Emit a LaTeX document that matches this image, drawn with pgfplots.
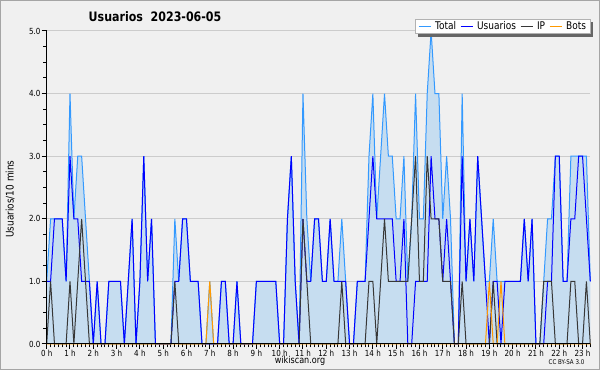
\documentclass[border=0pt]{standalone}
\usepackage{pgfplots}
\pgfplotsset{compat=1.18}
\usepackage{pgfplotstable}
\usepackage{fontspec}
\setmainfont{DejaVu Sans}[FakeStretch=0.85]
\newlength\px
\setlength\px{0.75pt}
\definecolor{bgc}{RGB}{240,240,240}
\definecolor{fillc}{RGB}{198,221,240}
\definecolor{totc}{RGB}{51,153,255}
\definecolor{usrc}{RGB}{0,0,255}
\definecolor{ipc}{RGB}{55,55,55}
\definecolor{botc}{RGB}{255,153,0}
\definecolor{gridc}{RGB}{204,204,204}
\definecolor{framec}{RGB}{165,165,165}

\pgfplotstableread{
i t u p b
0 1 1 0 0
1 2 1 1 0
2 2 2 0 0
3 2 2 0 0
4 2 2 0 0
5 1 1 0 0
6 4 3 1 0
7 2 2 0 0
8 3 2 1 0
9 3 1 2 0
10 2 1 1 0
11 1 1 0 0
12 0 0 0 0
13 1 1 0 0
14 0 0 0 0
15 0 0 0 0
16 1 1 0 0
17 1 1 0 0
18 1 1 0 0
19 1 1 0 0
20 0 0 0 0
21 1 1 0 0
22 2 2 0 0
23 0 0 0 0
24 1 1 0 0
25 3 3 0 0
26 1 1 0 0
27 2 2 0 0
28 0 0 0 0
29 0 0 0 0
30 0 0 0 0
31 0 0 0 0
32 0 0 0 0
33 2 1 1 0
34 1 1 0 0
35 2 2 0 0
36 2 2 0 0
37 1 1 0 0
38 1 1 0 0
39 1 1 0 0
40 0 0 0 0
41 0 0 0 0
42 1 0 0 1
43 0 0 0 0
44 0 0 0 0
45 1 1 0 0
46 1 1 0 0
47 0 0 0 0
48 0 0 0 0
49 1 1 0 0
50 0 0 0 0
51 0 0 0 0
52 0 0 0 0
53 0 0 0 0
54 1 1 0 0
55 1 1 0 0
56 1 1 0 0
57 1 1 0 0
58 1 1 0 0
59 1 1 0 0
60 0 0 0 0
61 0 0 0 0
62 2 2 0 0
63 3 3 0 0
64 1 1 0 0
65 0 0 0 0
66 4 2 2 0
67 2 1 1 0
68 1 1 0 0
69 2 2 0 0
70 2 2 0 0
71 1 1 0 0
72 1 1 0 0
73 2 2 0 0
74 1 1 0 0
75 1 1 0 0
76 2 1 1 0
77 1 1 0 0
78 0 0 0 0
79 0 0 0 0
80 1 1 0 0
81 1 1 0 0
82 1 1 0 0
83 3 2 1 0
84 4 3 1 0
85 2 2 0 0
86 3 2 1 0
87 4 2 2 0
88 3 2 1 0
89 3 2 1 0
90 2 1 1 0
91 2 1 1 0
92 3 2 1 0
93 1 0 1 0
94 2 0 2 0
95 4 1 3 0
96 2 1 1 0
97 2 1 1 0
98 4 1 3 0
99 5 3 2 0
100 4 2 2 0
101 4 2 2 0
102 2 1 1 0
103 3 2 1 0
104 2 1 1 0
105 0 0 0 0
106 0 0 0 0
107 4 3 1 0
108 1 1 0 0
109 2 2 0 0
110 1 1 0 0
111 3 3 0 0
112 2 2 0 0
113 1 1 0 0
114 1 0 0 1
115 2 1 1 0
116 1 1 0 0
117 1 0 0 1
118 1 1 0 0
119 1 1 0 0
120 1 1 0 0
121 1 1 0 0
122 1 1 0 0
123 2 2 0 0
124 1 1 0 0
125 2 2 0 0
126 0 0 0 0
127 0 0 0 0
128 1 0 1 0
129 2 1 1 0
130 2 1 1 0
131 3 3 0 0
132 3 3 0 0
133 1 1 0 0
134 1 1 0 0
135 3 2 1 0
136 3 2 1 0
137 3 3 0 0
138 3 3 0 0
139 3 2 1 0
140 1 1 0 0
}\data

\begin{document}
\begin{tikzpicture}[x=1pt,y=1pt]
\fill[bgc] (0,0) rectangle (600\px,370\px);
\draw[framec, line width=1\px] (0.5\px,0.5\px) rectangle (599.5\px,369.5\px);
\useasboundingbox (0,0) rectangle (600\px,370\px);
\begin{axis}[
  at={(46.7\px,26\px)}, anchor=south west,
  scale only axis, width=543.6\px, height=313\px,
  xmin=0, xmax=140, ymin=0, ymax=5,
  clip=false,
  axis x line=bottom, axis y line=left,
  axis line style={-, black, line width=1\px},
  every outer x axis line/.append style={-},
  every outer y axis line/.append style={-},
  xtick={0,6,...,138},
  xticklabels={0 h,1 h,2 h,3 h,4 h,5 h,6 h,7 h,8 h,9 h,10 h,11 h,12 h,13 h,14 h,15 h,16 h,17 h,18 h,19 h,20 h,21 h,22 h,23 h},
  minor xtick={0,1,...,140},
  ytick={0,1,2,3,4,5},
  yticklabels={0.0,1.0,2.0,3.0,4.0,5.0},
  minor ytick={0,0.25,...,5},
  tick align=outside,
  major tick length=5\px, minor tick length=3.5\px,
  tick style={black, line width=1\px},
  ymajorgrids, major grid style={gridc, line width=1\px},
  /pgf/number format/assume math mode=true,
  tick label style={font=\fontsize{8.4\px}{9\px}\selectfont},
  xticklabel style={inner sep=0.5\px},
  yticklabel style={inner sep=1\px},
  legend columns=4,
  legend cell align=left,
  legend image code/.code={\draw[#1, line width=1\px] (0\px,0\px) -- (12\px,0\px);},
  legend style={
    name=leg,
    at={(1,1)}, anchor=north east, xshift=0\px, yshift=11\px,
    draw=none, fill=white,
    font=\fontsize{10.6\px}{11\px}\selectfont,
    inner xsep=2.5\px, inner ysep=0.5\px,
    nodes={inner xsep=1.5\px, inner ysep=1\px},
    /tikz/every odd column/.append style={column sep=2.5\px},
    /tikz/every even column/.append style={column sep=2.5\px},
  },
]
\addplot[fill=fillc, draw=none, forget plot] table[x=i, y=t]{\data} \closedcycle;
\addplot[color=totc, line width=1\px] table[x=i, y=t]{\data};
\addlegendentry{Total}
\addplot[color=usrc, line width=1\px] table[x=i, y=u]{\data};
\addlegendentry{Usuarios}
\addplot[color=ipc, line width=1\px] table[x=i, y=p]{\data};
\addlegendentry{IP}
\addplot[color=botc, line width=1\px] table[x=i, y=b]{\data};
\addlegendentry{Bots}
\draw[black, line width=1\px] (axis cs:0,0) -- (axis cs:140,0);
\draw[black, line width=1\px] (axis cs:0,0) -- (axis cs:0,5);
\end{axis}
\draw[black!30, line width=1\px] (leg.south west) rectangle (leg.north east);
\fill[black!60] ([xshift=2.5\px,yshift=-3\px]leg.south west) rectangle ([xshift=3\px,yshift=-0.5\px]leg.south east);
\fill[black!60] ([xshift=0.5\px,yshift=-3\px]leg.south east) rectangle ([xshift=3\px,yshift=-2.5\px]leg.north east);
\node[anchor=west, font=\bfseries\fontsize{13\px}{15\px}\selectfont] at (84\px,353\px) {Usuarios\ \ 2023-06-05};
\node[rotate=90, font=\fontsize{10.5\px}{11\px}\selectfont] at (10\px,171\px) {Usuarios/10 mins};
\node[font=\fontsize{9.5\px}{10\px}\selectfont] at (300\px,9\px) {wikiscan.org};
\node[anchor=east, font=\fontsize{6.5\px}{7\px}\selectfont] at (589\px,8\px) {CC BY-SA 3.0};
\end{tikzpicture}
\end{document}
